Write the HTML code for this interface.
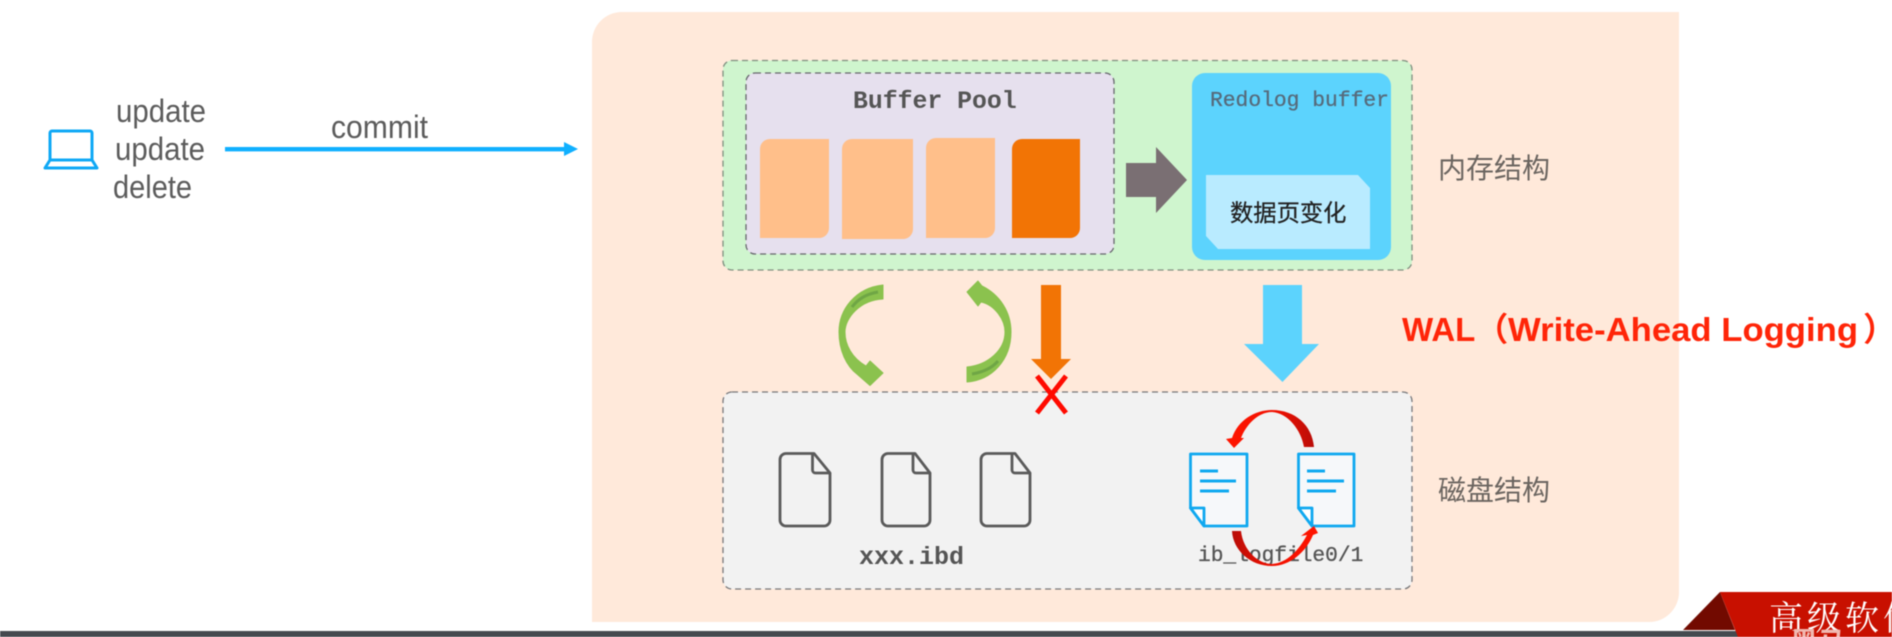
<!DOCTYPE html>
<html><head><meta charset="utf-8"><style>
html,body{margin:0;padding:0;background:#fff;width:1892px;height:637px;overflow:hidden}
svg{display:block;filter:blur(0.4px)}
.s{font-family:"Liberation Sans",sans-serif}
.m{font-family:"Liberation Mono",monospace}
.c{font-family:"Liberation Sans","Noto Sans CJK SC",sans-serif}
</style></head><body>
<svg xmlns="http://www.w3.org/2000/svg" width="1892" height="637" viewBox="0 0 1892 637">
<defs>
<linearGradient id="r1" gradientUnits="userSpaceOnUse" x1="1230" y1="0" x2="1315" y2="0"><stop offset="0" stop-color="#ff1500"/><stop offset="0.55" stop-color="#f01000"/><stop offset="1" stop-color="#b80d08"/></linearGradient>
<linearGradient id="r2" gradientUnits="userSpaceOnUse" x1="1232" y1="0" x2="1318" y2="0"><stop offset="0" stop-color="#b80d08"/><stop offset="0.45" stop-color="#f01000"/><stop offset="1" stop-color="#ff1500"/></linearGradient>
</defs>
<rect width="1892" height="637" fill="#fff"/>
<!-- peach panel -->
<path d="M622 12H1679V592A30 30 0 0 1 1649 622H592V42A30 30 0 0 1 622 12Z" fill="#ffe9da"/>

<!-- left side -->
<g fill="none" stroke="#0fa8f5" stroke-width="3" stroke-linejoin="round">
<path d="M50 160V133a2 2 0 0 1 2-2H90a2 2 0 0 1 2 2V160"/>
<path d="M50 160H92L97 168H45Z"/>
</g>
<g class="s" font-size="32" fill="#5c5c5c">
<text x="116" y="122" textLength="90" lengthAdjust="spacingAndGlyphs">update</text>
<text x="115" y="160" textLength="90" lengthAdjust="spacingAndGlyphs">update</text>
<text x="113" y="198" textLength="79" lengthAdjust="spacingAndGlyphs">delete</text>
<text x="331" y="138" textLength="97" lengthAdjust="spacingAndGlyphs">commit</text>
</g>
<rect x="225" y="147" width="340" height="4.4" fill="#10b0ff"/>
<path d="M564 142L578 149L564 156Z" fill="#10b0ff"/>

<!-- memory box -->
<rect x="723" y="60.500" width="689" height="209.500" rx="9" fill="#cff5ce" stroke="#7f8f7f" stroke-width="1.300" stroke-dasharray="6 4"/>
<rect x="746" y="73" width="368" height="181" rx="9" fill="#e6e0ee" stroke="#66666c" stroke-width="1.300" stroke-dasharray="6 4"/>
<text class="m" x="853" y="108" font-size="24.800" font-weight="700" fill="#555">Buffer Pool</text>
<path d="M770 139H829V228A10 10 0 0 1 819 238H760V149A10 10 0 0 1 770 139Z" fill="#ffbf8a"/>
<path d="M852 139H913V229A10 10 0 0 1 903 239H842V149A10 10 0 0 1 852 139Z" fill="#ffbf8a"/>
<path d="M936 138H995V228A10 10 0 0 1 985 238H926V148A10 10 0 0 1 936 138Z" fill="#ffbf8a"/>
<path d="M1022 139H1080V228A10 10 0 0 1 1070 238H1012V149A10 10 0 0 1 1022 139Z" fill="#f27405"/>
<path d="M1126 163H1156V147L1187 180L1156 213V197H1126Z" fill="#7a6f73"/>
<rect x="1192" y="73" width="199" height="187" rx="13" fill="#5cd3fd"/>
<text class="m" x="1210" y="106" font-size="21.300" fill="#566b7c" stroke="#566b7c" stroke-width="0.300">Redolog buffer</text>
<path d="M1206 175H1358L1370 188V249H1218L1206 236Z" fill="#b9ebff"/>
<text class="c" x="1230" y="221" font-size="23.300" fill="#222" stroke="#222" stroke-width="0.250">数据页变化</text>
<text class="c" x="1438" y="178" font-size="28" fill="#6b6560">内存结构</text>

<!-- green arcs -->
<path d="M883 285C855 288 839 310 839 332C839 350 846 366 858 375L870 385.500L883 373L870 361L866 366C852 358 845 345 845 332C845 318 860 300 883 299Z" fill="#8bc24e" stroke="#8bc24e" stroke-width="1" stroke-linejoin="round"/>
<path d="M978 281L982 286C1000 295 1011 312 1011 332C1011 360 992 380 967 382L967 367C988 365 1005 350 1005 332C1005 320 995 305 981 302L978 306L967 292Z" fill="#8bc24e" stroke="#8bc24e" stroke-width="1" stroke-linejoin="round"/>
<path d="M878 292C866 294 858 299 852 307" fill="none" stroke="#6fa645" stroke-width="3"/>
<path d="M972 374C984 372 992 368 998 361" fill="none" stroke="#6fa645" stroke-width="3"/>

<!-- down arrows -->
<path d="M1041 285H1061V359H1071L1051 379L1031 359H1041Z" fill="#f27405"/>
<path d="M1263 285H1302V344H1319L1282.500 382L1244 344H1263Z" fill="#5cd3fd"/>

<!-- disk box -->
<rect x="723" y="392" width="689" height="197" rx="9" fill="#f2f2f2" stroke="#77777a" stroke-width="1.300" stroke-dasharray="6 4"/>
<path d="M1037 376L1066 413M1066 376L1037 413" stroke="#ff0a00" stroke-width="5" fill="none"/>

<!-- gray docs -->
<g fill="none" stroke="#5a5a5a" stroke-width="2.800" stroke-linejoin="round">
<path d="M786 453.500H814L830 473V520a6 6 0 0 1-6 6H786a6 6 0 0 1-6-6V459.500a6 6 0 0 1 6-6Z"/>
<path d="M812.500 454V470a3 3 0 0 0 3 3H830"/>
<path d="M888 453.500H915L930 473V520a6 6 0 0 1-6 6H888a6 6 0 0 1-6-6V459.500a6 6 0 0 1 6-6Z"/>
<path d="M913 454V470a3 3 0 0 0 3 3H930"/>
<path d="M987 453.500H1015L1030 473V520a6 6 0 0 1-6 6H987a6 6 0 0 1-6-6V459.500a6 6 0 0 1 6-6Z"/>
<path d="M1012 454V470a3 3 0 0 0 3 3H1030"/>
</g>
<text class="m" x="859" y="564" font-size="25" font-weight="700" fill="#555">xxx.ibd</text>

<!-- blue docs -->
<g fill="#f6f8fa" stroke="#0fa8f0" stroke-width="2.800" stroke-linejoin="round">
<path d="M1190.500 454H1247V526H1204L1190.500 508Z"/>
<path d="M1298.500 454H1354V526H1312L1298.500 508Z"/>
<path d="M1190.500 508H1204V526Z" fill="#fff"/>
<path d="M1298.500 508H1312V526Z" fill="#fff"/>
</g>
<g stroke="#0fa8f0" stroke-width="3" fill="none">
<path d="M1200 471H1218M1200 481H1236M1200 491H1229"/>
<path d="M1307 471H1325M1307 481H1344M1307 491H1336"/>
</g>
<text class="m" x="1198" y="561" font-size="21.200" fill="#555" stroke="#555" stroke-width="0.300">ib_logfile0/1</text>
<!-- red arcs -->
<path d="M1314 447C1312 425 1295 410 1272 410C1255 410 1238 420 1232 438L1226 439L1234 448L1244 438L1241 438C1246 425 1258 412 1272 412C1288 413 1301 430 1304 447Z" fill="url(#r1)"/>
<path d="M1232 531C1233 550 1250 566 1272 566C1290 566 1306 552 1313 535L1318 533L1314 526L1301 536L1307 535C1299 550 1287 563 1272 564C1258 564 1243 550 1241 531Z" fill="url(#r2)"/>
<text class="c" x="1438" y="500" font-size="28" fill="#6b6560">磁盘结构</text>

<!-- WAL -->
<g class="c" font-size="33" font-weight="700" fill="#ff2508">
<text x="1402" y="341">WAL（</text>
<text x="1508" y="341" textLength="350" lengthAdjust="spacingAndGlyphs">Write-Ahead Logging</text>
<text x="1863" y="341">）</text>
</g>

<!-- footer -->
<rect x="0" y="631" width="1892" height="6" fill="#454a4f"/>
<path d="M1683 630L1720 592L1735 630Z" fill="#720a00"/>
<path d="M1720 592H1892V637H1738Z" fill="#c81000"/>
<text x="1769" y="630" font-family="'Noto Serif CJK SC','Liberation Serif',serif" font-size="34" fill="#fff" letter-spacing="4">高级软件</text>
<text x="1790" y="652" font-family="'Noto Sans CJK SC',sans-serif" font-weight="700" font-size="28" fill="#f0b8b0">黑马</text>
</svg>
</body></html>
